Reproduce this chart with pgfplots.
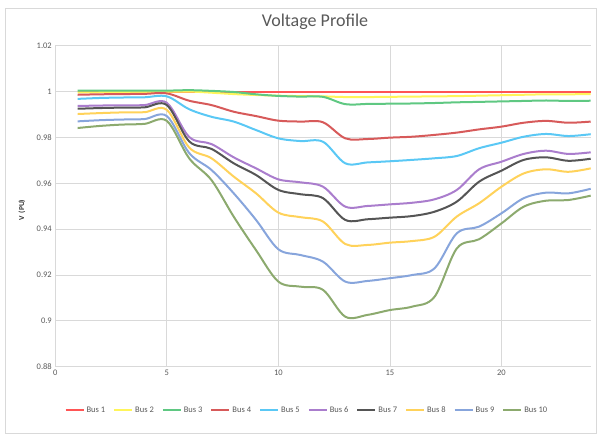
\documentclass[border=0pt]{standalone}
\usepackage{pgfplots}
\pgfplotsset{compat=1.18}
\usepackage{fontspec}
\setmainfont{Carlito}
\definecolor{txt}{RGB}{89,89,89}
\definecolor{gridc}{RGB}{217,217,217}
\definecolor{c1}{RGB}{255,85,85}
\definecolor{c2}{RGB}{255,245,90}
\definecolor{c3}{RGB}{95,200,130}
\definecolor{c4}{RGB}{215,90,90}
\definecolor{c5}{RGB}{90,200,245}
\definecolor{c6}{RGB}{170,125,205}
\definecolor{c7}{RGB}{85,85,85}
\definecolor{c8}{RGB}{255,210,90}
\definecolor{c9}{RGB}{135,165,220}
\definecolor{c10}{RGB}{140,170,110}
\begin{document}
\begin{tikzpicture}[x=1pt,y=1pt]
\path[use as bounding box] (0,0) rectangle (600,436);
\draw[gridc, line width=0.8pt] (5,3) rectangle (596,428);
\node[txt, font=\fontsize{18}{20}\selectfont] at (315,414) {Voltage Profile};
\node[txt!60!black, font=\fontsize{7.5}{9}\selectfont\bfseries, rotate=90] at (22,226) {V\,\,(PU)};
\begin{axis}[
  at={(55.3pt,69.3pt)}, anchor=south west,
  scale only axis, width=535.4pt, height=321pt,
  xmin=0, xmax=24, ymin=0.88, ymax=1.02,
  xtick={0,5,10,15,20}, ytick={0.88,0.9,0.92,0.94,0.96,0.98,1,1.02},
  grid=major, major grid style={gridc, line width=0.8pt},
  axis line style={draw=none}, tick style={draw=none},
  tick label style={txt, font=\fontsize{8.5}{10}\selectfont},
  /pgf/number format/assume math mode=true,
  yticklabel style={/pgf/number format/fixed, /pgf/number format/precision=2},
  every axis plot/.append style={line width=2pt, smooth, tension=0.55, no markers},
  legend style={at={(0.47,-0.135)}, anchor=center, draw=none, fill=none,
    font=\fontsize{8.5}{10}\selectfont\color{txt}, legend columns=10,
    /tikz/every even column/.append style={column sep=6pt},
    /tikz/every odd column/.append style={inner sep=1pt}},
  legend image code/.code={\draw[#1, line width=2pt] (0pt,0pt) -- (18pt,0pt);},
  clip=false,
]
\addplot[c1] coordinates {(1,1.0) (2,1.0) (3,1.0) (4,1.0) (5,1.0) (6,1.0) (7,1.0) (8,1.0) (9,1.0) (10,1.0) (11,1.0) (12,1.0) (13,1.0) (14,1.0) (15,1.0) (16,1.0) (17,1.0) (18,1.0) (19,1.0) (20,1.0) (21,1.0) (22,1.0) (23,1.0) (24,1.0)};
\addlegendentry{Bus 1}
\addplot[c2] coordinates {(1,0.9996) (2,0.9997) (3,0.9997) (4,0.9998) (5,0.9999) (6,1.0) (7,0.9995) (8,0.9989) (9,0.9985) (10,0.9982) (11,0.998) (12,0.9979) (13,0.9976) (14,0.9976) (15,0.9977) (16,0.9978) (17,0.9979) (18,0.998) (19,0.9982) (20,0.9984) (21,0.9986) (22,0.9988) (23,0.9988) (24,0.9989)};
\addlegendentry{Bus 2}
\addplot[c3] coordinates {(1,1.0004) (2,1.0004) (3,1.0004) (4,1.0004) (5,1.0004) (6,1.0006) (7,1.0003) (8,0.9998) (9,0.9988) (10,0.9981) (11,0.9978) (12,0.9977) (13,0.9945) (14,0.9946) (15,0.9947) (16,0.9948) (17,0.9950) (18,0.9953) (19,0.9955) (20,0.9957) (21,0.9959) (22,0.9961) (23,0.9959) (24,0.9960)};
\addlegendentry{Bus 3}
\addplot[c4] coordinates {(1,0.9986) (2,0.9988) (3,0.9989) (4,0.999) (5,0.9992) (6,0.996) (7,0.9941) (8,0.9912) (9,0.9893) (10,0.9873) (11,0.9869) (12,0.9866) (13,0.9796) (14,0.9793) (15,0.9799) (16,0.9803) (17,0.9811) (18,0.9821) (19,0.9835) (20,0.9847) (21,0.9864) (22,0.9872) (23,0.9864) (24,0.9869)};
\addlegendentry{Bus 4}
\addplot[c5] coordinates {(1,0.9968) (2,0.9972) (3,0.9974) (4,0.9975) (5,0.9979) (6,0.9923) (7,0.989) (8,0.9869) (9,0.9832) (10,0.9796) (11,0.9784) (12,0.9781) (13,0.9687) (14,0.9691) (15,0.9696) (16,0.9702) (17,0.9709) (18,0.9719) (19,0.9753) (20,0.9777) (21,0.9803) (22,0.9815) (23,0.9806) (24,0.9814)};
\addlegendentry{Bus 5}
\addplot[c6] coordinates {(1,0.9937) (2,0.9939) (3,0.994) (4,0.9941) (5,0.9951) (6,0.9802) (7,0.9771) (8,0.9713) (9,0.9665) (10,0.9617) (11,0.9604) (12,0.9585) (13,0.9498) (14,0.9501) (15,0.9508) (16,0.9515) (17,0.953) (18,0.9571) (19,0.9661) (20,0.9694) (21,0.9728) (22,0.9742) (23,0.9728) (24,0.9735)};
\addlegendentry{Bus 6}
\addplot[c7] coordinates {(1,0.9925) (2,0.9928) (3,0.993) (4,0.9931) (5,0.9941) (6,0.9783) (7,0.975) (8,0.9687) (9,0.9636) (10,0.9571) (11,0.9552) (12,0.9535) (13,0.944) (14,0.9443) (15,0.945) (16,0.9457) (17,0.9476) (18,0.952) (19,0.9607) (20,0.9655) (21,0.9702) (22,0.9713) (23,0.9698) (24,0.9707)};
\addlegendentry{Bus 7}
\addplot[c8] coordinates {(1,0.9902) (2,0.9906) (3,0.9909) (4,0.991) (5,0.992) (6,0.9756) (7,0.9709) (8,0.9629) (9,0.9556) (10,0.9472) (11,0.9452) (12,0.9433) (13,0.9335) (14,0.9331) (15,0.9341) (16,0.9348) (17,0.9367) (18,0.9455) (19,0.9513) (20,0.9585) (21,0.9643) (22,0.9661) (23,0.965) (24,0.9665)};
\addlegendentry{Bus 8}
\addplot[c9] coordinates {(1,0.987) (2,0.9875) (3,0.9878) (4,0.988) (5,0.9893) (6,0.9732) (7,0.9658) (8,0.9556) (9,0.944) (10,0.9312) (11,0.9287) (12,0.9258) (13,0.9171) (14,0.9174) (15,0.9186) (16,0.92) (17,0.9229) (18,0.9382) (19,0.9411) (20,0.9469) (21,0.9535) (22,0.9559) (23,0.9556) (24,0.9576)};
\addlegendentry{Bus 9}
\addplot[c10] coordinates {(1,0.9841) (2,0.985) (3,0.9856) (4,0.9859) (5,0.9872) (6,0.9709) (7,0.9614) (8,0.9454) (9,0.9308) (10,0.9171) (11,0.9149) (12,0.9135) (13,0.9018) (14,0.9026) (15,0.9047) (16,0.9062) (17,0.9105) (18,0.9316) (19,0.9356) (20,0.9425) (21,0.9498) (22,0.9524) (23,0.9527) (24,0.9546)};
\addlegendentry{Bus 10}
\end{axis}
\end{tikzpicture}
\end{document}
